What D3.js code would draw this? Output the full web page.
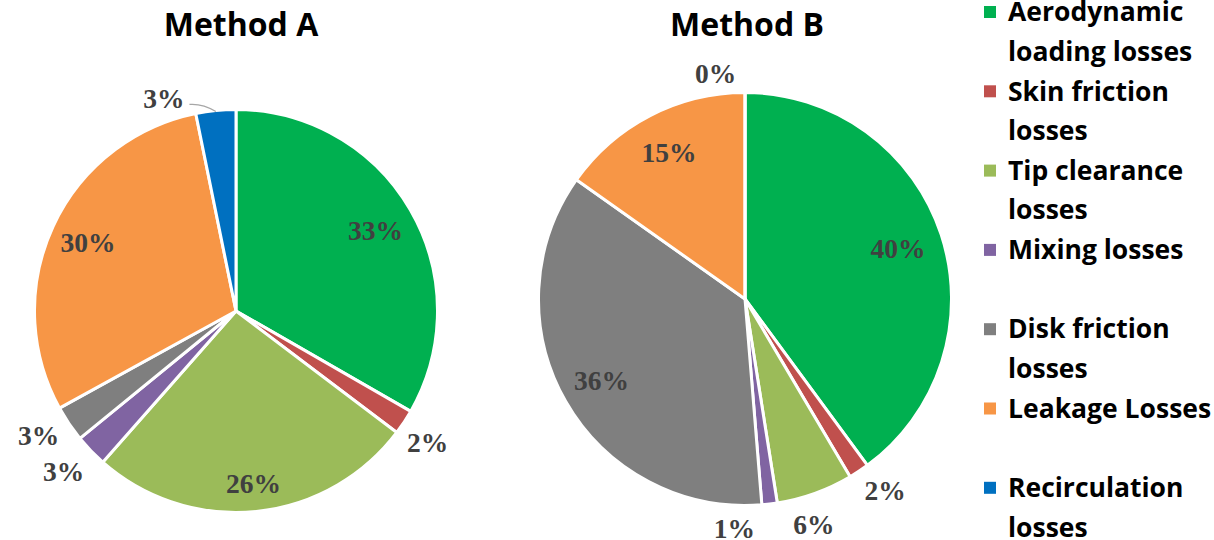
<!DOCTYPE html>
<html>
<head>
<meta charset="utf-8">
<script src="https://cdn.jsdelivr.net/npm/d3@7"></script>
<style>
  html, body { margin: 0; padding: 0; background: #fff; }
  svg { display: block; }
</style>
</head>
<body>
<svg id="chart" width="1214" height="540"></svg>
<script>
// Loss categories shared by both pies
const categories = [
  "Aerodynamic loading losses",
  "Skin friction losses",
  "Tip clearance losses",
  "Mixing losses",
  "Disk friction losses",
  "Leakage Losses",
  "Recirculation losses"
];
// Legend text, pre-wrapped into lines
const legendLines = [
  ["Aerodynamic", "loading losses"],
  ["Skin friction", "losses"],
  ["Tip clearance", "losses"],
  ["Mixing losses"],
  ["Disk friction", "losses"],
  ["Leakage Losses"],
  ["Recirculation", "losses"]
];
const colors = ["#00B050", "#C0504D", "#9BBB59", "#8064A2", "#7F7F7F", "#F79646", "#0070C0"];

// Share of total loss (%) per category
const methodA = [33.3, 2.0, 26.2, 2.6, 2.9, 29.8, 3.2];
const methodB = [39.9, 1.6, 6.0, 1.2, 36.1, 15.2, 0.0];
const titles = ["Method A", "Method B"];

const svg = d3.select("#chart");

// Label tweaks for crowded outside labels: [angle shift in degrees, gap beyond rim]
const outsideTweaksA = [null, [1, 31], null, [1, 34], [1.7, 32], null, [-13, 23]];
const outsideTweaksB = [null, [-2.7, 31], [2.8, 29], [9.5, 23], null, null, [-7.4, 21]];
const insideFactorA = [0.8, 0, 0.86, 0, 0, 0.81, 0];
const insideFactorB = [0.78, 0, 0, 0, 0.8, 0.8, 0];

const pies = [
  { values: methodA, title: titles[0], cx: 236, cy: 311, r: 201.5, titleX: 241, tweaks: outsideTweaksA, inside: insideFactorA, leader: [6] },
  { values: methodB, title: titles[1], cx: 745, cy: 299, r: 206.5, titleX: 747, tweaks: outsideTweaksB, inside: insideFactorB, leader: [] }
];

const pie = d3.pie().sort(null).value(d => d);

pies.forEach(p => {
  const g = svg.append("g").attr("transform", `translate(${p.cx},${p.cy})`);
  const arcs = pie(p.values);
  const arc = d3.arc().innerRadius(0).outerRadius(p.r);

  g.selectAll("path.slice")
    .data(arcs)
    .join("path")
    .attr("class", "slice")
    .attr("d", arc)
    .attr("fill", (d, i) => colors[i])
    .attr("stroke", "#fff")
    .attr("stroke-width", 3)
    .attr("stroke-linejoin", "round");

  const fmt = v => Math.round(v) + "%";

  arcs.forEach((a, i) => {
    const mid = (a.startAngle + a.endAngle) / 2;
    let x, y;
    const tw = p.tweaks[i];
    if (tw) {
      const ang = mid + tw[0] * Math.PI / 180;
      const rr = p.r + tw[1];
      x = Math.sin(ang) * rr;
      y = -Math.cos(ang) * rr;
    } else {
      const rr = p.r * p.inside[i];
      x = Math.sin(mid) * rr;
      y = -Math.cos(mid) * rr;
    }
    const t = g.append("text")
      .attr("x", x)
      .attr("y", y)
      .attr("dy", "0.35em")
      .attr("text-anchor", "middle")
      .attr("font-family", "'Liberation Serif', 'Times New Roman', serif")
      .attr("font-weight", "bold")
      .attr("font-size", 27.5)
      .attr("fill", "#404040")
      .text(fmt(p.values[i]));

    if (p.leader.includes(i)) {
      const w = t.node().getComputedTextLength();
      const ex = Math.sin(mid) * (p.r - 1);
      const ey = -Math.cos(mid) * (p.r - 1);
      const sx = x + w / 2 + 5;
      const sy = y + 6;
      g.append("path")
        .attr("d", `M${sx},${sy} Q${(sx + ex) / 2},${sy - 1} ${ex},${ey}`)
        .attr("fill", "none")
        .attr("stroke", "#A6A6A6")
        .attr("stroke-width", 1.2);
    }
  });

  svg.append("text")
    .attr("x", p.titleX)
    .attr("y", 25)
    .attr("dy", "0.35em")
    .attr("text-anchor", "middle")
    .attr("font-family", "'Open Sans', sans-serif")
    .attr("font-weight", "bold")
    .attr("font-size", 32)
    .attr("fill", "#000")
    .text(p.title);
});

// Legend
const legend = svg.append("g");
const slotStep = 79.3, lineStep = 39.5, firstY = 12;
legendLines.forEach((lines, i) => {
  const y0 = firstY + i * slotStep;
  legend.append("rect")
    .attr("x", 984)
    .attr("y", y0 - 6)
    .attr("width", 12)
    .attr("height", 12)
    .attr("fill", colors[i]);
  lines.forEach((ln, j) => {
    legend.append("text")
      .attr("x", 1008)
      .attr("y", y0 + j * lineStep)
      .attr("dy", "0.35em")
      .attr("font-family", "'Open Sans', sans-serif")
      .attr("font-weight", "bold")
      .attr("font-size", 26.5)
      .attr("fill", "#000")
      .text(ln);
  });
});
</script>
</body>
</html>
